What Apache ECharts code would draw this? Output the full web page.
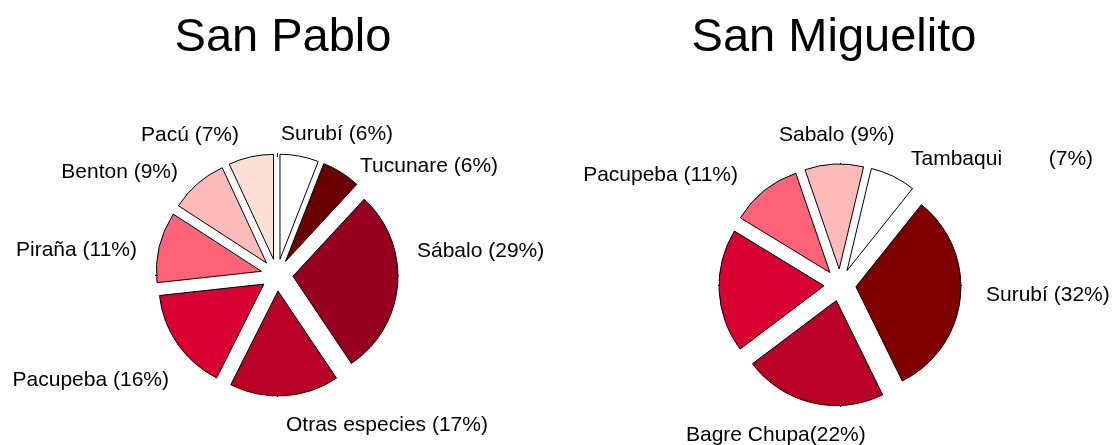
<!DOCTYPE html>
<html>
<head>
<meta charset="utf-8">
<script src="https://cdn.jsdelivr.net/npm/echarts@6/dist/echarts.min.js"></script>
<style>
html,body{margin:0;padding:0;background:#fff;}
#chart{width:1112px;height:445px;}
</style>
</head>
<body>
<div id="chart"></div>
<script>
// ---------- data ----------
const titles = ['San Pablo', 'San Miguelito'];

const spCategories = ['Surubí', 'Tucunare', 'Sábalo', 'Otras especies', 'Pacupeba', 'Piraña', 'Benton', 'Pacú'];
const spValues = [6, 6, 29, 17, 16, 11, 9, 7];
const spLabels = ['Surubí (6%)', 'Tucunare (6%)', 'Sábalo (29%)', 'Otras especies (17%)', 'Pacupeba (16%)', 'Piraña (11%)', 'Benton (9%)', 'Pacú (7%)'];

const smCategories = ['Sabalo', 'Tambaqui', 'Surubí', 'Bagre Chupa', 'Otras especies', 'Pacupeba'];
const smValues = [9, 7, 32, 22, 19, 11];
const smLabels = ['Sabalo (9%)', 'Tambaqui        (7%)', 'Surubí (32%)', 'Bagre Chupa(22%)', '', 'Pacupeba (11%)'];

// ---------- styles / layout ----------
const spColors = ['#ffffff', '#6b0000', '#96001e', '#b90027', '#d80032', '#fe6378', '#ffbaba', '#ffe0d6'];
const smColors = ['#ffbaba', '#ffffff', '#800000', '#b90027', '#d80032', '#fe6378'];

// label placement relative to pie centre: [align, dx, dy]
const spLabelPlace = [['left', 4, -141], ['left', 83, -109], ['left', 140, -24], ['left', 9, 150],
                      ['right', -108, 105], ['right', -140, -25], ['right', -99, -103], ['right', -38, -140]];
const smLabelPlace = [['left', -61, -150], ['left', 71, -126], ['left', 146, 10], ['left', -154, 150],
                      null, ['right', -102, -110]];

const FONT = "'Liberation Sans', Arial, Helvetica, sans-serif";
const R = 105, OFFSET = 16, BOX = 122;

const pies = [
  { center: [277, 275], startAngle: 90, names: spCategories, values: spValues, labels: spLabels, colors: spColors, place: spLabelPlace, titleX: 283 },
  { center: [840, 285], startAngle: 109, names: smCategories, values: smValues, labels: smLabels, colors: smColors, place: smLabelPlace, titleX: 834 }
];

const series = [], grid = [], xAxis = [], yAxis = [], graphic = [];

function tickAxis(gridIndex, position) {
  return {
    type: 'category', gridIndex: gridIndex, position: position, data: [''], boundaryGap: true,
    axisLine: { show: false }, axisLabel: { show: false }, splitLine: { show: false },
    axisTick: { show: true, alignWithLabel: true, inside: true, length: 4, lineStyle: { color: '#000', width: 1 } }
  };
}

pies.forEach((p, k) => {
  // exploded pie
  series.push({
    type: 'pie',
    center: p.center,
    radius: R,
    startAngle: p.startAngle,
    clockwise: true,
    selectedMode: 'multiple',
    selectedOffset: OFFSET,
    avoidLabelOverlap: false,
    animation: false,
    emphasis: { disabled: true },
    itemStyle: { borderColor: '#000', borderWidth: 1 },
    label: { show: false },
    labelLine: { show: false },
    data: p.values.map((v, i) => ({ name: p.names[i], value: v, selected: true, itemStyle: { color: p.colors[i] } }))
  });
  // label carrier (transparent, same geometry)
  series.push({
    type: 'pie',
    center: p.center,
    radius: R,
    startAngle: p.startAngle,
    clockwise: true,
    selectedMode: false,
    silent: true,
    avoidLabelOverlap: false,
    animation: false,
    itemStyle: { color: 'rgba(0,0,0,0)', borderWidth: 0 },
    label: {
      show: true, position: 'outside', color: '#000', fontSize: 21, fontFamily: FONT, bleedMargin: 0,
      formatter: prm => p.labels[prm.dataIndex]
    },
    labelLine: { show: false, length: 0, length2: 0 },
    labelLayout: prm => {
      const pl = p.place[prm.dataIndex];
      if (!pl) return {};
      return { x: p.center[0] + pl[1], y: p.center[1] + pl[2], align: pl[0], verticalAlign: 'middle' };
    },
    data: p.values.map((v, i) => ({ name: p.names[i], value: v, label: { show: !!p.labels[i] } }))
  });

  // tick marks of the frame around each pie
  grid.push({ left: p.center[0] - BOX, top: p.center[1] - BOX, width: 2 * BOX, height: 2 * BOX, show: false, containLabel: false });
  xAxis.push(tickAxis(k, 'bottom'), tickAxis(k, 'top'));
  yAxis.push(tickAxis(k, 'left'), tickAxis(k, 'right'));

  graphic.push({
    type: 'text', x: p.titleX, y: 38.5, silent: true,
    style: { text: titles[k], font: '47px ' + FONT, fill: '#000', textAlign: 'center', textVerticalAlign: 'middle' }
  });
});

const chart = echarts.init(document.getElementById('chart'), null, { renderer: 'canvas' });
chart.setOption({
  backgroundColor: '#ffffff',
  animation: false,
  grid: grid,
  xAxis: xAxis,
  yAxis: yAxis,
  graphic: graphic,
  series: series
});
</script>
</body>
</html>
